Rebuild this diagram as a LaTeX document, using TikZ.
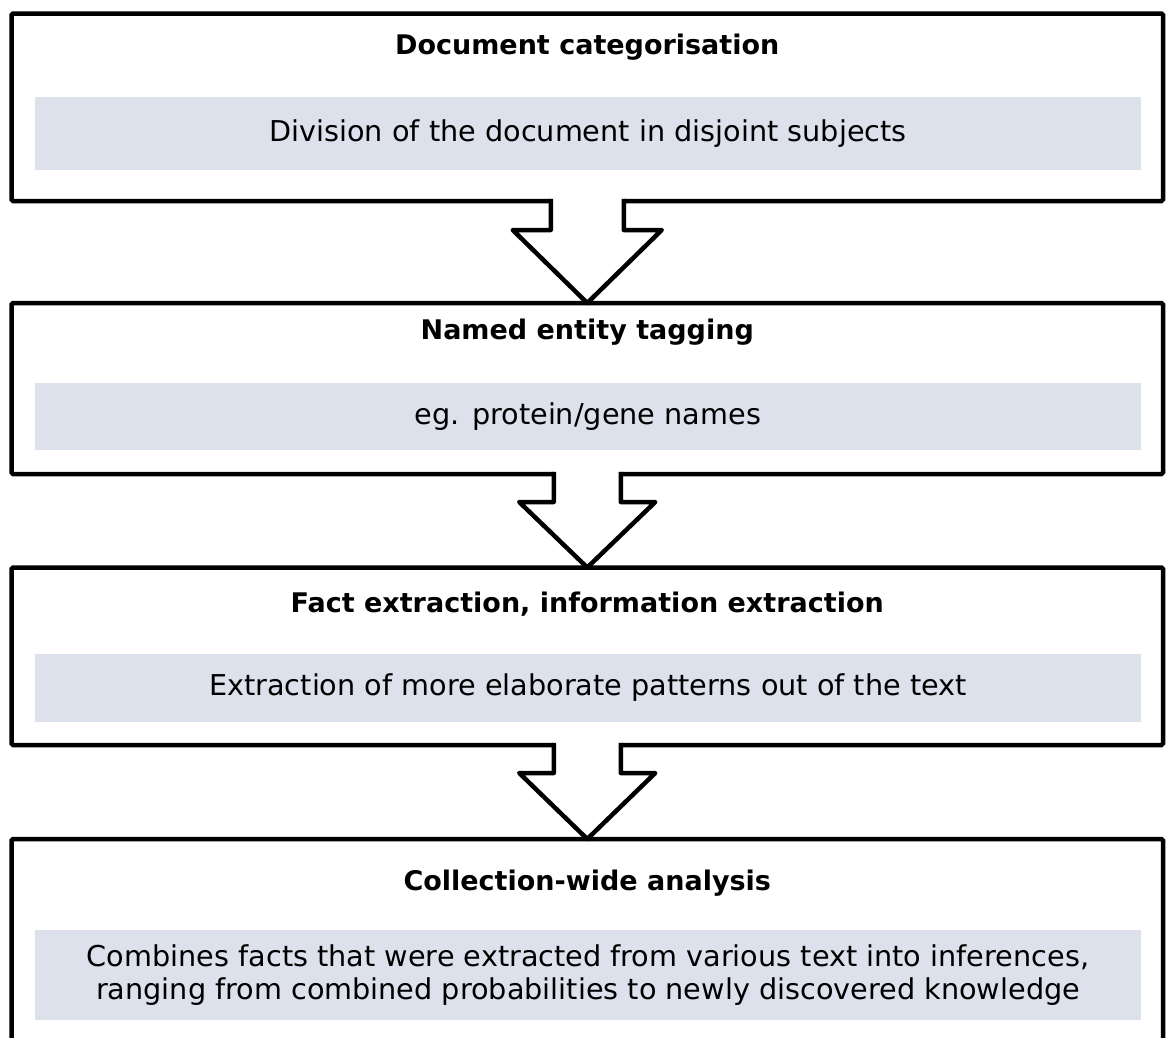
\documentclass[tikz,border=0pt]{standalone}
\usepackage{fontspec}
\setmainfont{DejaVu Sans}
\usetikzlibrary{calc}
\definecolor{bandcol}{RGB}{220,225,236}
\begin{document}
\begin{tikzpicture}[x=1pt,y=-1pt,
  box/.style={draw=black,line width=4.5pt,rounded corners=1.5pt,minimum width=1151.5pt,outer sep=0pt,inner sep=0pt},
  band/.style={fill=bandcol,draw=none,minimum width=1105.7pt,inner sep=0pt,outer sep=0pt,align=center,font=\fontsize{28.7}{33}\selectfont},
  title/.style={font=\fontsize{27}{32}\selectfont\bfseries,inner sep=0pt},
  arrowline/.style={draw=black,line width=4.5pt,line join=round}]
\useasboundingbox (0,0) rectangle (1166,1037);
\clip (0,0) rectangle (1166,1037);
% boxes
\node[box,minimum height=187.5pt] (b1) at (587.25,107.25) {};
\node[box,minimum height=171pt] (b2) at (587.25,388.5) {};
\node[box,minimum height=177.5pt] (b3) at (587.25,656.25) {};
\node[box,minimum height=231pt] (b4) at (587.25,954.5) {};
% bands
\node[band,minimum height=73pt] (s1) at (588,133.5) {Division of the document in disjoint subjects};
\node[band,minimum height=67pt] (s2) at (588,416.5) {eg. protein/gene names};
\node[band,minimum height=68pt] (s3) at (588,688) {Extraction of more elaborate patterns out of the text};
\node[band,minimum height=90pt] (s4) at (588,975) {Combines facts that were extracted from various text into inferences,\\ranging from combined probabilities to newly discovered knowledge};
% titles
\node[title] (t1) at (587.25,47) {Document categorisation};
\node[title] (t2) at (587.25,332) {Named entity tagging};
\node[title] (t3) at (587.25,604) {Fact extraction, information extraction};
\node[title] (t4) at (587.25,883) {Collection-wide analysis};
% arrow 1
\fill[white] ($(b1.south)+(-36.5,-6)$) -- ($(b1.south)+(36.5,-6)$) -- ($(b1.south)+(36.5,29)$) -- ($(b1.south)+(74.5,29)$) -- (b2.north) -- ($(b1.south)+(-74.5,29)$) -- ($(b1.south)+(-36.5,29)$) -- cycle;
\draw[arrowline] ($(b1.south)+(-36.5,-2.25)$) -- ($(b1.south)+(-36.5,29)$) -- ($(b1.south)+(-74.5,29)$) -- (b2.north) -- ($(b1.south)+(74.5,29)$) -- ($(b1.south)+(36.5,29)$) -- ($(b1.south)+(36.5,-2.25)$);
% arrow 2
\fill[white] ($(b2.south)+(-33.5,-6)$) -- ($(b2.south)+(33.5,-6)$) -- ($(b2.south)+(33.5,28)$) -- ($(b2.south)+(68,28)$) -- (b3.north) -- ($(b2.south)+(-68,28)$) -- ($(b2.south)+(-33.5,28)$) -- cycle;
\draw[arrowline] ($(b2.south)+(-33.5,-2.25)$) -- ($(b2.south)+(-33.5,28)$) -- ($(b2.south)+(-68,28)$) -- (b3.north) -- ($(b2.south)+(68,28)$) -- ($(b2.south)+(33.5,28)$) -- ($(b2.south)+(33.5,-2.25)$);
% arrow 3
\fill[white] ($(b3.south)+(-33.5,-6)$) -- ($(b3.south)+(33.5,-6)$) -- ($(b3.south)+(33.5,28)$) -- ($(b3.south)+(68,28)$) -- (b4.north) -- ($(b3.south)+(-68,28)$) -- ($(b3.south)+(-33.5,28)$) -- cycle;
\draw[arrowline] ($(b3.south)+(-33.5,-2.25)$) -- ($(b3.south)+(-33.5,28)$) -- ($(b3.south)+(-68,28)$) -- (b4.north) -- ($(b3.south)+(68,28)$) -- ($(b3.south)+(33.5,28)$) -- ($(b3.south)+(33.5,-2.25)$);
\end{tikzpicture}
\end{document}
